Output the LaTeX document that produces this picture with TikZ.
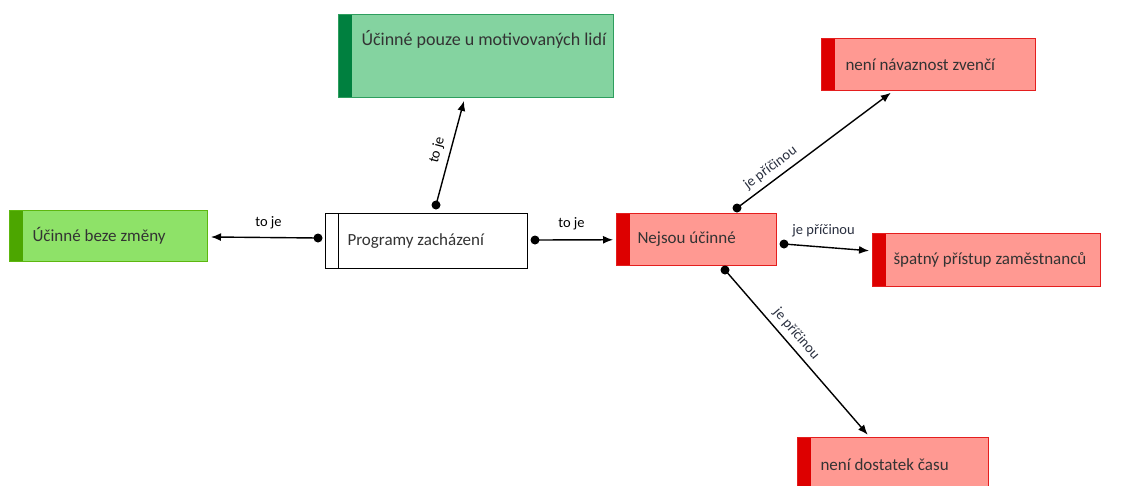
\documentclass[tikz,border=0pt]{standalone}
\usepackage{fontspec}
\setmainfont{Carlito}
\usetikzlibrary{arrows.meta,calc}
\definecolor{tgfill}{HTML}{84D3A0}
\definecolor{tgbord}{HTML}{2E9E5E}
\definecolor{tgstripe}{HTML}{00803F}
\definecolor{lgfill}{HTML}{8EE268}
\definecolor{lgbord}{HTML}{5DB70F}
\definecolor{lgstripe}{HTML}{4CA600}
\definecolor{rdfill}{HTML}{FF9992}
\definecolor{rdbord}{HTML}{E41E1E}
\definecolor{rdstripe}{HTML}{DD0000}
\definecolor{txt}{HTML}{333333}
\definecolor{lbl}{HTML}{2A3040}
\begin{document}
\begin{tikzpicture}[x=1pt,y=-1pt,
  box/.style={anchor=north west, inner xsep=0pt, inner ysep=0pt, line width=1pt,
    font=\fontsize{17}{20}\selectfont, text=txt},
  striped/.style n args={3}{box, fill=#1, draw=#2,
    path picture={\fill[#3] (path picture bounding box.north west) rectangle ([xshift=13pt]path picture bounding box.south west);}},
  greentop/.style={striped={tgfill}{tgbord}{tgstripe}},
  greenleft/.style={striped={lgfill}{lgbord}{lgstripe}},
  redbox/.style={striped={rdfill}{rdbord}{rdstripe}},
  conn/.style={line width=1.4pt, -{Latex[length=10pt,width=8pt]}, shorten >=3pt},
  dot/.style={fill=black},
  lab/.style={font=\fontsize{14.5}{16}\selectfont, text=black, inner sep=1pt},
  clab/.style={font=\fontsize{14.5}{16}\selectfont, text=lbl, inner sep=1pt}
]
\useasboundingbox (0,0) rectangle (1121,485);
\fill[white] (0,0) rectangle (1121,485);

% nodes
\node[greentop, font=\fontsize{18}{21}\selectfont, text height=31pt, text depth=52pt] (top) at (338,14)
  {\makebox[275pt][l]{\hspace{23pt}Účinné pouze u motivovaných lidí}};
\node[greenleft, minimum height=51pt] (left) at (9,210)
  {\makebox[198pt][l]{\hspace{23pt}Účinné beze změny}};
\node[box, draw=black, fill=white, minimum height=55pt,
  path picture={\draw[line width=1pt] ([xshift=13pt]path picture bounding box.north west) -- ([xshift=13pt]path picture bounding box.south west);}] (prog) at (325,213)
  {\makebox[202pt][l]{\hspace{22pt}Programy zacházení}};
\node[redbox, minimum height=52pt] (nej) at (616,213)
  {\makebox[160pt][l]{\hspace{21pt}Nejsou účinné}};
\node[redbox, minimum height=52pt] (nav) at (821,38)
  {\makebox[214pt][l]{\hspace{24pt}není návaznost zvenčí}};
\node[redbox, minimum height=53pt] (spat) at (872,233)
  {\makebox[228pt][l]{\hspace{21pt}špatný přístup zaměstnanců}};
\node[redbox, text height=33pt, text depth=20pt] (cas) at (797,437)
  {\makebox[191pt][l]{\hspace{23pt}není dostatek času}};

% connector start points
\coordinate (d1) at (318,238);
\coordinate (d2) at (535,240);
\coordinate (d3) at (436,205);
\coordinate (d4) at (737,208);
\coordinate (d5) at (784,244);
\coordinate (d6) at (725,270);

\draw[conn] (d1) -- node[lab, above=7pt, pos=0.45] {to je} (left);
\draw[conn] (d2) -- node[lab, above=8pt, pos=0.45] {to je} (nej);
\draw[conn] (d3) -- node[lab, above=5pt, sloped, pos=0.48] {to je} (top);
\draw[conn] (d4) -- node[clab, above=4pt, sloped, pos=0.26] {je příčinou} (nav);
\draw[conn] (d5) -- node[clab, above=8pt, pos=0.45] {je příčinou} (spat);
\draw[conn] (d6) -- node[clab, above=4pt, sloped, pos=0.43] {je příčinou} (cas);

\foreach \d in {d1,d2,d3,d4,d5,d6} \fill[dot] (\d) circle (4.5pt);
\end{tikzpicture}
\end{document}
